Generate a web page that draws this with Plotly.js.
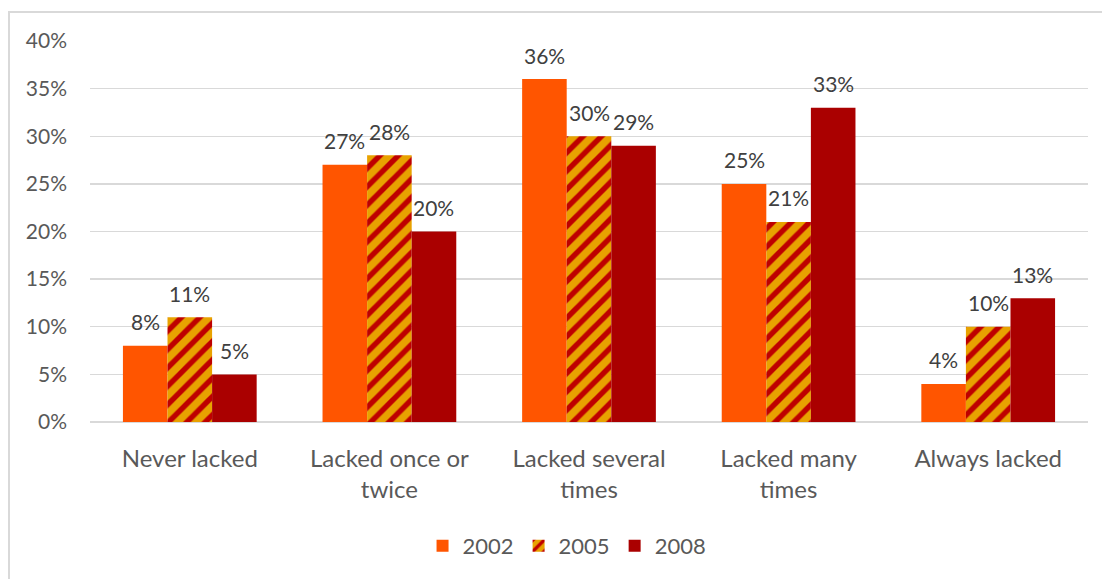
<!DOCTYPE html>
<html>
<head>
<meta charset="utf-8">
<script src="https://cdn.plot.ly/plotly-3.0.1.min.js"></script>
<style>
  html, body { margin: 0; padding: 0; background: #fff; }
  #wrap { position: relative; width: 1102px; height: 579px; overflow: hidden; }
  #frame { position: absolute; left: 8px; top: 11px; width: 1200px; height: 700px;
           border-left: 2px solid #D9D9D9; border-top: 2px solid #D9D9D9; pointer-events: none; }
  #chart { position: absolute; left: 0; top: 0; width: 1102px; height: 579px; }
</style>
</head>
<body>
<div id="wrap">
  <div id="chart"></div>
  <div id="frame"></div>
</div>
<script>
// Share of respondents by how often they lacked it, per survey year
const categories = ['Never lacked', 'Lacked once or<br>twice', 'Lacked several<br>times', 'Lacked many<br>times', 'Always lacked'];
const years = ['2002', '2005', '2008'];
const values2002 = [0.08, 0.27, 0.36, 0.25, 0.04];
const values2005 = [0.11, 0.28, 0.30, 0.21, 0.10];
const values2008 = [0.05, 0.20, 0.29, 0.33, 0.13];
const yTicks = [0, 0.05, 0.10, 0.15, 0.20, 0.25, 0.30, 0.35, 0.40];

const font = 'Lato, "Noto Sans", sans-serif';
const pct = v => Math.round(v * 100) + '%';
const BAR_GAP = 0.33;

const series = [values2002, values2005, values2008];
const markers = [
  { color: '#FF5500' },
  { color: '#E8A200',
    pattern: { shape: '/', bgcolor: '#E8A200', fgcolor: '#BE0000', fillmode: 'replace', size: 13, solidity: 0.42 } },
  { color: '#AA0000' }
];

const data = series.map((vals, k) => ({
  type: 'bar', name: years[k], x: categories, y: vals,
  marker: markers[k], hoverinfo: 'skip'
}));

// value labels above each bar, placed at the bar's slot within its group
const barWidth = (1 - BAR_GAP) / series.length;
const annotations = [];
series.forEach((vals, k) => {
  vals.forEach((v, i) => {
    annotations.push({
      xref: 'x', yref: 'y',
      x: i + (k - (series.length - 1) / 2) * barWidth, y: v,
      text: pct(v), showarrow: false, yanchor: 'middle', xanchor: 'center', yshift: 24,
      font: { family: font, size: 21, color: '#404040' }
    });
  });
});

const layout = {
  width: 1102, height: 579,
  margin: { l: 90, r: 14, t: 41, b: 154 },
  paper_bgcolor: 'rgba(0,0,0,0)', plot_bgcolor: '#fff',
  barmode: 'group', bargap: BAR_GAP, bargroupgap: 0,
  font: { family: font, color: '#595959', size: 21 },
  showlegend: true,
  legend: {
    orientation: 'h', x: 0.478, xanchor: 'center', y: -0.325, yanchor: 'middle',
    font: { family: font, size: 22, color: '#595959' }, itemwidth: 30, traceorder: 'normal'
  },
  annotations: annotations,
  xaxis: {
    type: 'category', showgrid: false, zeroline: false,
    showline: false, ticks: '', ticklabelstandoff: 20,
    tickfont: { family: font, size: 24, color: '#595959' }
  },
  yaxis: {
    range: [0, 0.4], tickvals: yTicks, ticktext: yTicks.map(pct),
    showgrid: true, gridcolor: '#D9D9D9', gridwidth: 1.3,
    zeroline: true, zerolinecolor: '#D9D9D9', zerolinewidth: 1.3,
    showline: false, ticks: '', ticklabelstandoff: 22,
    tickfont: { family: font, size: 21, color: '#595959' }
  }
};

Plotly.newPlot('chart', data, layout, { displayModeBar: false, staticPlot: true });
</script>
</body>
</html>
